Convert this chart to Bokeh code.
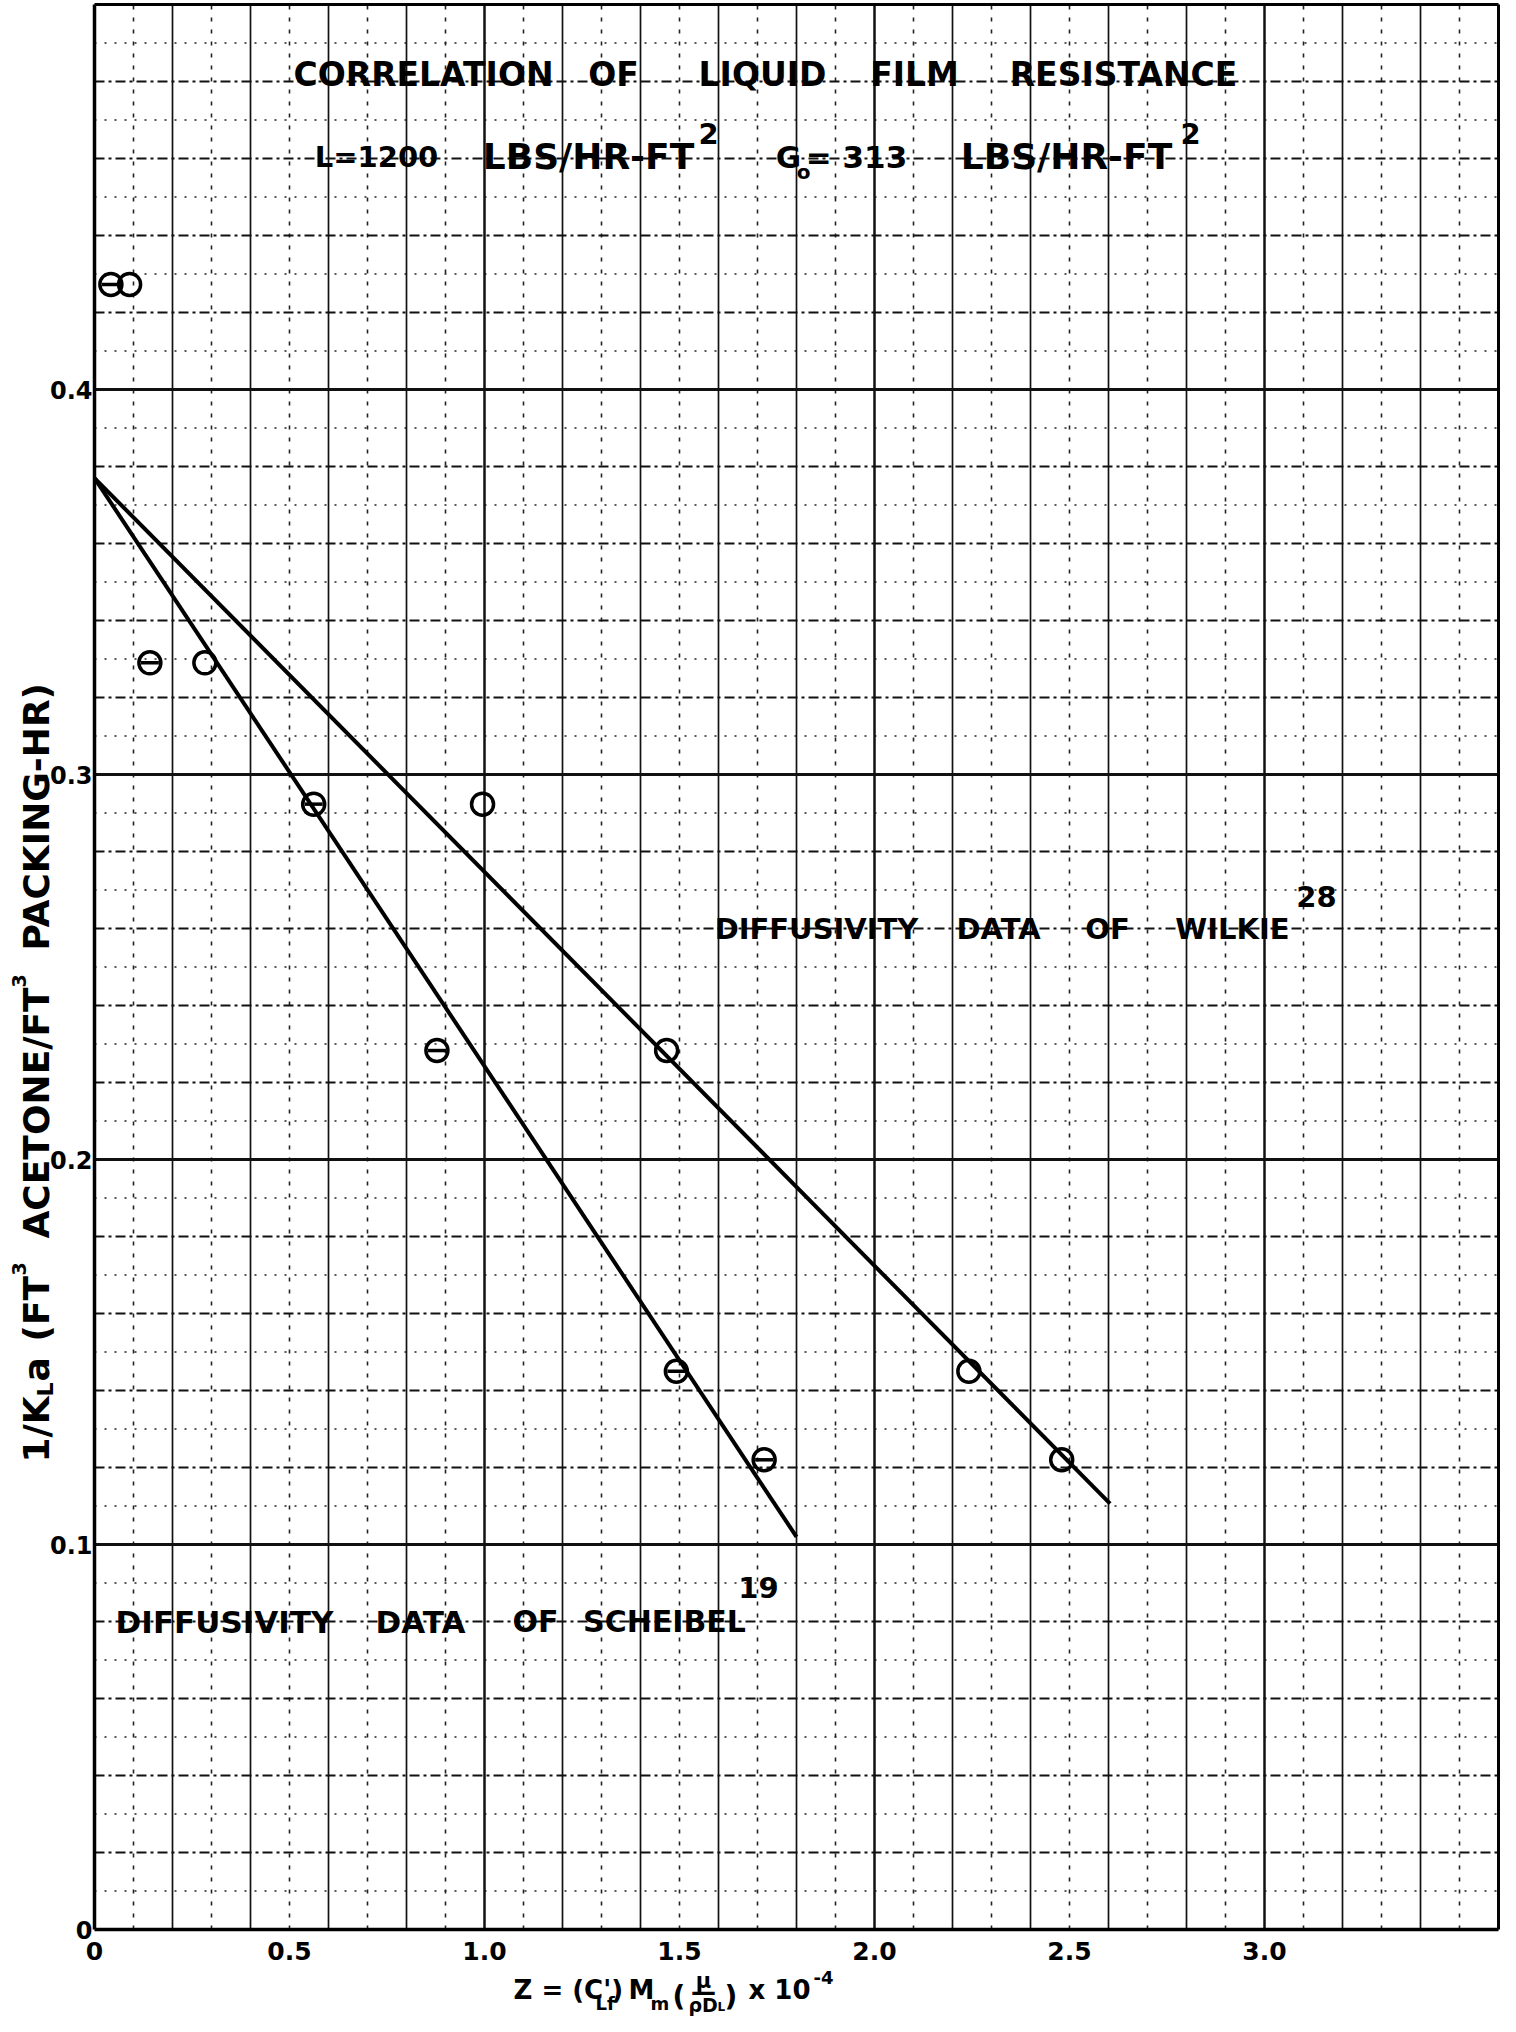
import math
from bokeh.plotting import figure
from bokeh.models import Range1d, FixedTicker, Label, CustomJSTickFormatter
from bokeh.embed import file_html
from bokeh.resources import INLINE

# ---------------- data ----------------
scheibel_x = [0.042, 0.142, 0.562, 0.878, 1.492, 1.717]
scheibel_y = [0.4273, 0.329, 0.2923, 0.2283, 0.145, 0.122]
wilkie_x = [0.090, 0.283, 0.995, 1.467, 2.242, 2.480]
wilkie_y = [0.4273, 0.329, 0.2923, 0.2283, 0.145, 0.122]

scheibel_line_x = [0.0, 1.80]
scheibel_line_y = [0.377, 0.102]
wilkie_line_x = [0.0, 2.604]
wilkie_line_y = [0.377, 0.1106]

x_tick_values = [0, 0.5, 1.0, 1.5, 2.0, 2.5, 3.0]
x_tick_labels = ["0", "0.5", "1.0", "1.5", "2.0", "2.5", "3.0"]
y_tick_values = [0, 0.1, 0.2, 0.3, 0.4]
y_tick_labels = ["0", "0.1", "0.2", "0.3", "0.4"]

X_MAX = 3.6
Y_MAX = 0.5

# ---------------- page geometry ----------------
FONT = "DejaVu Sans"
W, H = 1500, 2016
X0, SX = 102, 390.0      # page x of data x=0, pixels per x unit
Y0, SY = 1937, 3850.0    # page y of data y=0, pixels per y unit


def fx(px):
    return (px - X0) / SX


def fy(py):
    return (Y0 - py) / SY


p = figure(width=W, height=H, output_backend="svg", toolbar_location=None,
           x_range=Range1d(fx(8), fx(8 + W)), y_range=Range1d(fy(8 + H), fy(8)),
           min_border=0, background_fill_color="white",
           border_fill_color="white")
p.outline_line_color = None
p.xgrid.visible = False
p.ygrid.visible = False

# ---------------- graph-paper grid ----------------
v_dotted = [round(0.1 * i, 2) for i in range(1, 36, 2)]
v_solid = [round(0.2 * i, 2) for i in range(1, 18) if i % 5 != 0]
v_heavy = [1.0, 2.0, 3.0]
h_dotted = [round(0.01 * i, 3) for i in range(1, 50, 2)]
h_dashed = [round(0.02 * i, 3) for i in range(1, 25) if i % 5 != 0]
h_heavy = [0.1, 0.2, 0.3, 0.4]


def vlines(ticks, width, dash="solid", color="#111111"):
    n = len(ticks)
    p.segment(x0=ticks, y0=[0] * n, x1=ticks, y1=[Y_MAX] * n,
              line_color=color, line_width=width, line_dash=dash)


def hlines(ticks, width, dash="solid", color="#111111"):
    n = len(ticks)
    p.segment(x0=[0] * n, y0=ticks, x1=[X_MAX] * n, y1=ticks,
              line_color=color, line_width=width, line_dash=dash)


vlines(v_dotted, 1.6, "4 8", "#222222")
hlines(h_dotted, 1.5, "2 8", "#222222")
vlines(v_solid, 1.7)
hlines(h_dashed, 1.8, "10 4 3 4")
vlines(v_heavy, 2.5)
hlines(h_heavy, 3.0)
# top and right edges of the sheet
hlines([Y_MAX], 3.0, color="black")
vlines([X_MAX], 3.0, color="black")

# ---------------- axes ----------------
fmt_code = """
const i = vals.findIndex(v => Math.abs(v - tick) < 1e-9);
return i >= 0 ? labs[i] : "";
"""
p.xaxis.ticker = FixedTicker(ticks=x_tick_values)
p.xaxis.formatter = CustomJSTickFormatter(
    args=dict(vals=x_tick_values, labs=x_tick_labels), code=fmt_code)
p.yaxis.ticker = FixedTicker(ticks=y_tick_values)
p.yaxis.formatter = CustomJSTickFormatter(
    args=dict(vals=y_tick_values, labs=y_tick_labels), code=fmt_code)
p.xaxis.fixed_location = 0
p.yaxis.fixed_location = 0
p.xaxis.bounds = (0, X_MAX)
p.yaxis.bounds = (0, Y_MAX)
for ax in (p.xaxis, p.yaxis):
    ax.major_tick_line_color = None
    ax.minor_tick_line_color = None
    ax.axis_line_color = "black"
    ax.axis_line_width = 3.5
    ax.major_label_text_font = FONT
    ax.major_label_text_font_style = "bold"
    ax.major_label_text_color = "black"
p.xaxis.major_label_text_font_size = "25px"
p.yaxis.major_label_text_font_size = "24px"
p.xaxis.major_label_standoff = 6
p.yaxis.major_label_standoff = -4

# ---------------- marks ----------------
p.line(scheibel_line_x, scheibel_line_y, line_color="black", line_width=4)
p.line(wilkie_line_x, wilkie_line_y, line_color="black", line_width=4)

p.scatter(scheibel_x, scheibel_y, marker="circle", size=22, fill_color=None,
          line_color="black", line_width=3.5)
p.scatter(scheibel_x, scheibel_y, marker="dash", size=18, line_color="black",
          line_width=3.5)
p.scatter(wilkie_x, wilkie_y, marker="circle", size=22, fill_color=None,
          line_color="black", line_width=3.5)


# ---------------- texts ----------------
def lab(text, px, py, size, align="center", angle=0.0):
    p.add_layout(Label(x=fx(px), y=fy(py), text=text, text_font=FONT,
                       text_font_style="bold", text_font_size=f"{size}px",
                       text_align=align, text_baseline="alphabetic",
                       text_color="black", angle=angle))


def on_line(v):
    return Y0 - v * SY


# title line 1
t1 = on_line(0.48) - 7
for word, cx in [("CORRELATION", 431), ("OF", 621), ("LIQUID", 770),
                 ("FILM", 922), ("RESISTANCE", 1131)]:
    lab(word, cx, t1, 33)

# title line 2 (sits on the 0.46 line)
t2 = on_line(0.46) - 2
lab("L=1200", 384, t2, 29)
lab("LBS/HR-FT", 596, t2, 36)
lab("2", 716, t2 - 23, 29)
lab("G", 796, t2, 31)
lab("o", 811, t2 + 15, 20)
lab("= 313", 864, t2, 31)
lab("LBS/HR-FT", 1074, t2, 36)
lab("2", 1198, t2 - 23, 29)

# Wilkie annotation (sits on the 0.26 line)
wb = on_line(0.26)
for word, cx in [("DIFFUSIVITY", 824), ("DATA", 1006), ("OF", 1115),
                 ("WILKIE", 1240)]:
    lab(word, cx, wb, 29)
lab("28", 1324, wb - 32, 29)

# Scheibel annotation (sits on the 0.08 line)
sb = on_line(0.08)
for word, cx, fs in [("DIFFUSIVITY", 232, 31), ("DATA", 428, 31),
                     ("OF", 543, 30), ("SCHEIBEL", 672, 30)]:
    lab(word, cx, sb, fs)
lab("19", 766, sb - 34, 29)

# y-axis title (vertical, reading upward)
R = math.pi / 2
bx = 44
lab("1/K", bx, 1470, 36, "left", R)
lab("L", bx + 9, 1404, 22, "left", R)
lab("a", bx, 1389, 36, "left", R)
lab("(FT", bx, 1349, 36, "left", R)
lab("3", bx - 18, 1283, 19, "left", R)
lab("ACETONE/FT", bx, 1246, 36, "left", R)
lab("3", bx - 18, 995, 19, "left", R)
lab("PACKING-HR)", bx, 958, 36, "left", R)

# x-axis title
S = 521
base = 1997
lab("Z = (C')", S, base, 26, "left")
lab("Lf", S + 82, 2011, 18, "left")
lab("M", S + 115, base, 26, "left")
lab("m", S + 137, 2011, 18, "left")
lab("(", S + 159, 2004, 28, "left")
lab("\u03bc", S + 190, 1988, 21)
lab("\u2014", S + 190, 1999, 25)
lab("\u03c1D", S + 175, 2012, 19, "left")
lab("L", S + 204, 2014, 12, "left")
lab(")", S + 211, 2004, 28, "left")
lab("x 10", S + 235, base, 26, "left")
lab("-4", S + 300, 1985, 18, "left")

open("out.html", "w").write(file_html(p, INLINE))
